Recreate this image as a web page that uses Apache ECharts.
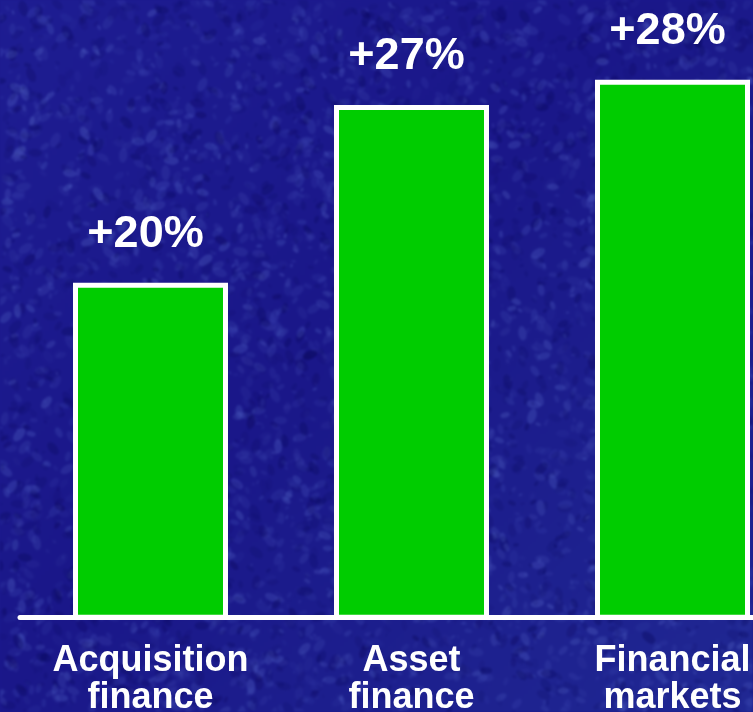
<!DOCTYPE html>
<html>
<head>
<meta charset="utf-8">
<script src="https://cdn.jsdelivr.net/npm/echarts@6/dist/echarts.min.js"></script>
<style>
  html, body { margin: 0; padding: 0; background: #1c1a8e; }
  #chart { width: 753px; height: 712px; }
</style>
</head>
<body>
<div id="chart"></div>
<script>
// Business lines and their growth rates
const categories = ['Acquisition\nfinance', 'Asset\nfinance', 'Financial\nmarkets'];
const growth = [20, 27, 28];

// Mottled blue slide backdrop, painted once onto an offscreen canvas
function paintBackdrop(w, h) {
  const c = document.createElement('canvas');
  c.width = w; c.height = h;
  const g = c.getContext('2d');
  const grad = g.createLinearGradient(0, 0, w, h);
  grad.addColorStop(0, '#1e1d92');
  grad.addColorStop(0.45, '#1a1789');
  grad.addColorStop(1, '#202893');
  g.fillStyle = grad;
  g.fillRect(0, 0, w, h);
  // seeded generator so the texture is the same on every load
  let s = 1234567;
  const rnd = () => { s = (s * 1103515245 + 12345) & 0x7fffffff; return s / 0x7fffffff; };
  for (let i = 0; i < 8000; i++) {
    const x = rnd() * w, y = rnd() * h;
    const r = 1 + rnd() * 3.5;
    const light = rnd() < 0.6;
    g.fillStyle = light
      ? 'rgba(80,95,195,' + (0.06 + rnd() * 0.14).toFixed(3) + ')'
      : 'rgba(12,10,95,' + (0.08 + rnd() * 0.14).toFixed(3) + ')';
    g.beginPath();
    g.ellipse(x, y, r * 1.8, r, rnd() * Math.PI, 0, Math.PI * 2);
    g.fill();
  }
  // soften the speckles in one pass
  const out = document.createElement('canvas');
  out.width = w; out.height = h;
  const o = out.getContext('2d');
  o.fillStyle = '#1c1a8e';
  o.fillRect(0, 0, w, h);
  o.filter = 'blur(1.3px)';
  o.drawImage(c, 0, 0);
  return out.toDataURL();
}

const el = document.getElementById('chart');
el.style.background = 'url(' + paintBackdrop(753, 712) + ')';

const chart = echarts.init(el, null, { renderer: 'canvas' });
chart.setOption({
  backgroundColor: 'transparent',
  animation: false,
  grid: { left: 20, top: 0, width: 783, bottom: 94.7, outerBoundsMode: 'none', containLabel: false },
  xAxis: {
    type: 'category',
    data: categories,
    axisLine: { show: true, lineStyle: { color: '#ffffff', width: 5 } },
    axisTick: { show: false },
    axisLabel: {
      color: '#ffffff',
      fontFamily: 'Liberation Sans, Arial, sans-serif',
      fontWeight: 'bold',
      fontSize: 36,
      lineHeight: 37,
      margin: 25,
      interval: 0
    }
  },
  yAxis: {
    type: 'value',
    min: 6.81,
    max: 31.14,
    show: false,
    splitLine: { show: false }
  },
  series: [{
    type: 'bar',
    data: growth,
    barWidth: 155,
    itemStyle: { color: '#00cc00', borderColor: '#ffffff', borderWidth: 5 },
    label: {
      show: true,
      position: 'top',
      distance: 26,
      offset: [-5, 0],
      formatter: p => '+' + p.value + '%',
      color: '#ffffff',
      fontFamily: 'Liberation Sans, Arial, sans-serif',
      fontWeight: 'bold',
      fontSize: 45
    }
  }]
});
</script>
</body>
</html>
